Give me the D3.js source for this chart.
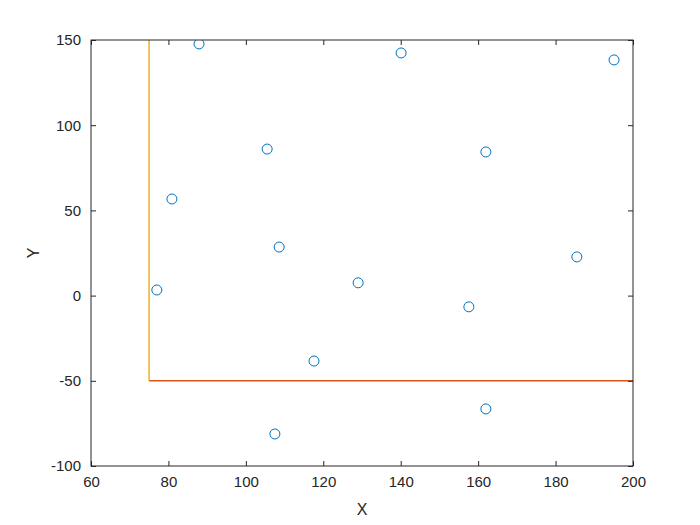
<!DOCTYPE html>
<html>
<head>
<meta charset="utf-8">
<script src="https://cdn.jsdelivr.net/npm/d3@7"></script>
<style>
  body { margin: 0; background: #fff; }
  text { font-family: "Liberation Sans", Arial, sans-serif; }
</style>
</head>
<body>
<div id="chart"></div>
<script>
var svgWidth = 700;
var svgHeight = 525;

// scatter points
var xValues = [87.9, 140.1, 195.1, 105.5, 162.0, 80.9, 108.6, 185.5, 77.0, 129.0, 157.6, 117.6, 162.0, 107.5];
var yValues = [147.7, 142.4, 138.3, 86.0, 84.3, 56.7, 28.5, 22.7, 3.3, 7.5, -6.6, -38.4, -66.5, -81.2];

// boundary lines
var hLineX = [75, 200];
var hLineY = [-50, -50];
var vLineX = [75, 75];
var vLineY = [-50, 150];

var xTicks = [60, 80, 100, 120, 140, 160, 180, 200];
var yTicks = [-100, -50, 0, 50, 100, 150];

var margin = { top: 40, right: 67, bottom: 59, left: 91 };
var width = svgWidth - margin.left - margin.right;
var height = svgHeight - margin.top - margin.bottom;

var svg = d3.select("#chart")
  .append("svg")
  .attr("width", svgWidth)
  .attr("height", svgHeight);

var chartGroup = svg.append("g")
  .attr("transform", `translate(${margin.left}, ${margin.top})`);

var xScale = d3.scaleLinear().domain([60, 200]).range([0, width]);
var yScale = d3.scaleLinear().domain([-100, 150]).range([height, 0]);

svg.append("clipPath").attr("id", "clip")
  .append("rect").attr("width", width).attr("height", height);

var plot = chartGroup.append("g").attr("clip-path", "url(#clip)");

// scatter markers
plot.selectAll("circle")
  .data(xValues.map((x, i) => ({ x: x, y: yValues[i] })))
  .enter()
  .append("circle")
  .attr("cx", d => xScale(d.x))
  .attr("cy", d => yScale(d.y))
  .attr("r", 5)
  .attr("fill", "none")
  .attr("stroke", "#0072BD")
  .attr("stroke-width", 1);

var line = d3.line().x(d => xScale(d[0])).y(d => yScale(d[1]));

plot.append("path")
  .datum(hLineX.map((x, i) => [x, hLineY[i]]))
  .attr("d", line)
  .attr("fill", "none")
  .attr("stroke", "#D95319")
  .attr("stroke-width", 1.5);

plot.append("path")
  .datum(vLineX.map((x, i) => [x, vLineY[i]]))
  .attr("d", line)
  .attr("fill", "none")
  .attr("stroke", "#EDB120")
  .attr("stroke-width", 1.5);

// axes, ticks inside like a boxed plot
function styleAxis(g) {
  g.select(".domain").remove();
  g.selectAll("line").attr("stroke", "#262626");
  g.selectAll("text").attr("fill", "#262626").attr("font-size", "15px");
}

var fmt = d => String(d);

chartGroup.append("g")
  .attr("transform", `translate(0, ${height})`)
  .call(d3.axisBottom(xScale).tickValues(xTicks).tickFormat(fmt).tickSizeInner(-5).tickSizeOuter(0).tickPadding(10))
  .call(styleAxis);

chartGroup.append("g")
  .call(d3.axisTop(xScale).tickValues(xTicks).tickSizeInner(-5).tickSizeOuter(0).tickFormat(""))
  .call(styleAxis);

chartGroup.append("g")
  .call(d3.axisLeft(yScale).tickValues(yTicks).tickFormat(fmt).tickSizeInner(-5).tickSizeOuter(0).tickPadding(10))
  .call(styleAxis);

chartGroup.append("g")
  .attr("transform", `translate(${width}, 0)`)
  .call(d3.axisRight(yScale).tickValues(yTicks).tickSizeInner(-5).tickSizeOuter(0).tickFormat(""))
  .call(styleAxis);

chartGroup.append("rect")
  .attr("width", width)
  .attr("height", height)
  .attr("fill", "none")
  .attr("stroke", "#262626")
  .attr("stroke-width", 1);

// axis labels
chartGroup.append("text")
  .attr("x", width / 2)
  .attr("y", height + 49)
  .attr("text-anchor", "middle")
  .attr("font-size", "16px")
  .attr("fill", "#262626")
  .text("X");

chartGroup.append("text")
  .attr("transform", "rotate(-90)")
  .attr("x", -height / 2)
  .attr("y", -52)
  .attr("text-anchor", "middle")
  .attr("font-size", "16px")
  .attr("fill", "#262626")
  .text("Y");
</script>
</body>
</html>
